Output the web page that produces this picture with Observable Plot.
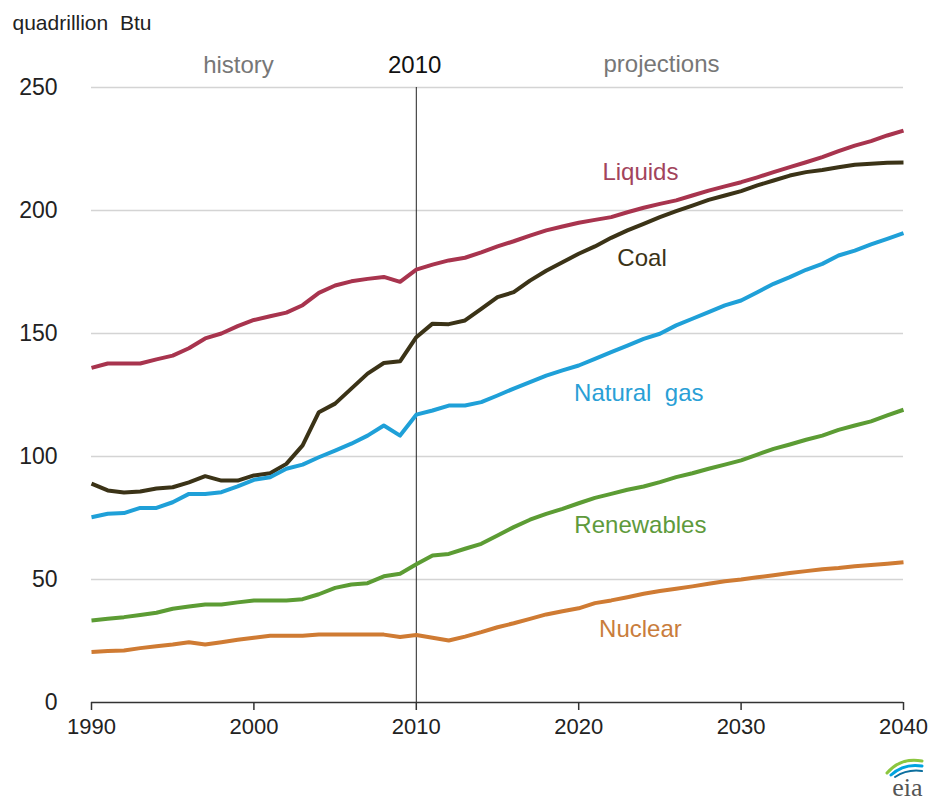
<!DOCTYPE html>
<html>
<head>
<meta charset="utf-8">
<script src="https://cdn.jsdelivr.net/npm/d3@7"></script>
<script src="https://cdn.jsdelivr.net/npm/@observablehq/plot@0.6"></script>
<style>
  html, body { margin: 0; padding: 0; background: #fff; }
  #chart svg { display: block; }
</style>
</head>
<body>
<div id="chart"></div>
<script>
const years = [1990,1991,1992,1993,1994,1995,1996,1997,1998,1999,
  2000,2001,2002,2003,2004,2005,2006,2007,2008,2009,
  2010,2011,2012,2013,2014,2015,2016,2017,2018,2019,
  2020,2021,2022,2023,2024,2025,2026,2027,2028,2029,
  2030,2031,2032,2033,2034,2035,2036,2037,2038,2039,2040];

const liquids = [136,137.8,137.8,137.8,139.5,141,144,148,150,153,
  155.5,157,158.5,161.5,166.5,169.5,171.2,172.2,173,171,
  176,178,179.7,180.8,183,185.4,187.5,189.8,191.9,193.5,
  195,196.2,197.3,199.3,201.1,202.7,204.1,206.1,208.1,209.8,
  211.5,213.5,215.6,217.6,219.6,221.7,224.1,226.4,228.2,230.5,232.5];

const coal = [89,86.2,85.4,85.8,87,87.5,89.5,92,90.2,90.2,
  92.3,93.2,97,104.5,118,121.5,127.6,133.7,138,138.7,
  148.5,154,153.8,155.3,160,164.8,166.8,171.5,175.5,179,
  182.4,185.4,188.9,191.9,194.6,197.3,199.7,202,204.3,206.1,
  207.9,210.2,212.2,214.2,215.6,216.5,217.6,218.6,219,219.4,219.5];

const naturalGas = [75.3,76.7,77,79.1,79.1,81.4,84.8,84.8,85.5,87.9,
  90.5,91.6,95,96.7,99.7,102.4,105.2,108.5,112.6,108.5,
  117,118.7,120.7,120.7,122.1,124.8,127.6,130.2,132.9,135,
  137,139.7,142.4,145.1,147.8,149.9,153.3,156,158.7,161.4,
  163.4,166.8,170.2,172.9,175.9,178.3,181.7,183.7,186.2,188.5,190.8];

const renewables = [33.3,34,34.7,35.6,36.5,38.1,39,39.8,39.8,40.7,
  41.5,41.5,41.5,42,44,46.6,48,48.5,51.3,52.3,
  56.2,59.8,60.4,62.5,64.5,67.9,71.3,74.3,76.7,78.7,
  81,83.2,84.8,86.5,87.8,89.6,91.6,93.2,95,96.7,
  98.4,100.8,103.1,104.9,106.8,108.5,110.8,112.6,114.3,116.7,119];

const nuclear = [20.5,20.9,21.1,22.1,22.9,23.6,24.5,23.6,24.5,25.5,
  26.3,27.1,27.1,27.1,27.6,27.6,27.6,27.6,27.6,26.6,
  27.4,26.3,25.2,26.8,28.6,30.6,32.2,34,35.8,37.1,
  38.3,40.4,41.5,42.8,44.2,45.3,46.2,47.2,48.3,49.3,
  50,50.9,51.7,52.6,53.4,54.2,54.7,55.4,55.9,56.4,57];

const seriesNames = ["Liquids", "Coal", "Natural gas", "Renewables", "Nuclear"];
const seriesValues = [liquids, coal, naturalGas, renewables, nuclear];
const lineColors = ["#a8344e", "#3b3317", "#1fa0d8", "#5c9c34", "#cf7b33"];
const labelColors = ["#a2445c", "#3b3317", "#2a9fd6", "#5e9a3c", "#c97d3c"];

const xTicks = [1990, 2000, 2010, 2020, 2030, 2040];
const yTicks = [0, 50, 100, 150, 200, 250];

const rows = seriesNames.flatMap((name, i) =>
  years.map((year, j) => ({ series: name, year, value: seriesValues[i][j] })));

const FONT = "'Liberation Sans', Arial, Helvetica, sans-serif";

const lab = (name, i, x, y) => Plot.text([name], {
  x: () => x, y: () => y, text: d => d,
  fill: labelColors[i], fontSize: 24, textAnchor: "middle", lineAnchor: "middle"
});

const chart = Plot.plot({
  width: 928,
  height: 803,
  marginLeft: 91,
  marginRight: 25,
  marginTop: 87,
  marginBottom: 101,
  style: { fontFamily: FONT, background: "#fff", color: "#222" },
  x: { domain: [1990, 2040], label: null },
  y: { domain: [0, 250], label: null },
  color: { domain: seriesNames, range: lineColors },
  marks: [
    Plot.gridY(yTicks.filter(d => d > 0), { stroke: "#d4d4d4", strokeOpacity: 1, strokeWidth: 1.5 }),
    Plot.axisY(yTicks, { tickSize: 0, tickPadding: 34, fontSize: 23, fill: "#222", label: null }),
    Plot.axisX(xTicks, { tickSize: 8, tickPadding: 8, fontSize: 22, fill: "#222", stroke: "#333", strokeWidth: 1.5, tickFormat: d => String(d), label: null }),
    Plot.ruleY([0], { stroke: "#333", strokeWidth: 1.5 }),
    Plot.ruleX([2010], { y1: 0, y2: 250, stroke: "#222", strokeWidth: 1 }),
    Plot.line(rows, { x: "year", y: "value", z: "series", stroke: "series", strokeWidth: 4, strokeLinejoin: "round", strokeLinecap: "butt" }),
    lab("Liquids", 0, 2023.8, 215.5),
    lab("Coal", 1, 2023.9, 180.5),
    lab("Natural  gas", 2, 2023.7, 125.6),
    lab("Renewables", 3, 2023.8, 72),
    lab("Nuclear", 4, 2023.8, 29.7),
    Plot.text(["history"], { x: () => 1999.05, frameAnchor: "top", dy: -22, text: d => d, fill: "#777", fontSize: 24, textAnchor: "middle", lineAnchor: "middle" }),
    Plot.text(["2010"], { x: () => 2009.9, frameAnchor: "top", dy: -22, text: d => d, fill: "#111", fontSize: 24, textAnchor: "middle", lineAnchor: "middle" }),
    Plot.text(["projections"], { x: () => 2025.1, frameAnchor: "top", dy: -23, text: d => d, fill: "#777", fontSize: 24, textAnchor: "middle", lineAnchor: "middle" }),
    Plot.text(["quadrillion  Btu"], { frameAnchor: "top-left", dx: -79, dy: -64, text: d => d, fill: "#222", fontSize: 21, textAnchor: "start", lineAnchor: "middle" }),
    Plot.text(["eia"], { frameAnchor: "bottom-right", dx: 19, dy: 85, text: d => d, fill: "#555", fontSize: 26, fontFamily: "'Liberation Serif', 'DejaVu Serif', serif", textAnchor: "end", lineAnchor: "middle" })
  ]
});

// small swoosh of the eia logo
const svg = d3.select(chart);
const logo = svg.append("g").attr("fill", "none").attr("stroke-linecap", "round");
logo.append("path").attr("d", "M887,773 Q901,757 922,761").attr("stroke", "#8cc63f").attr("stroke-width", 3);
logo.append("path").attr("d", "M891,775 Q904,763 922,766").attr("stroke", "#00a3e0").attr("stroke-width", 3);
logo.append("path").attr("d", "M895,777 Q907,769 922,771").attr("stroke", "#0d6f9e").attr("stroke-width", 2);

document.getElementById("chart").appendChild(chart);
</script>
</body>
</html>
